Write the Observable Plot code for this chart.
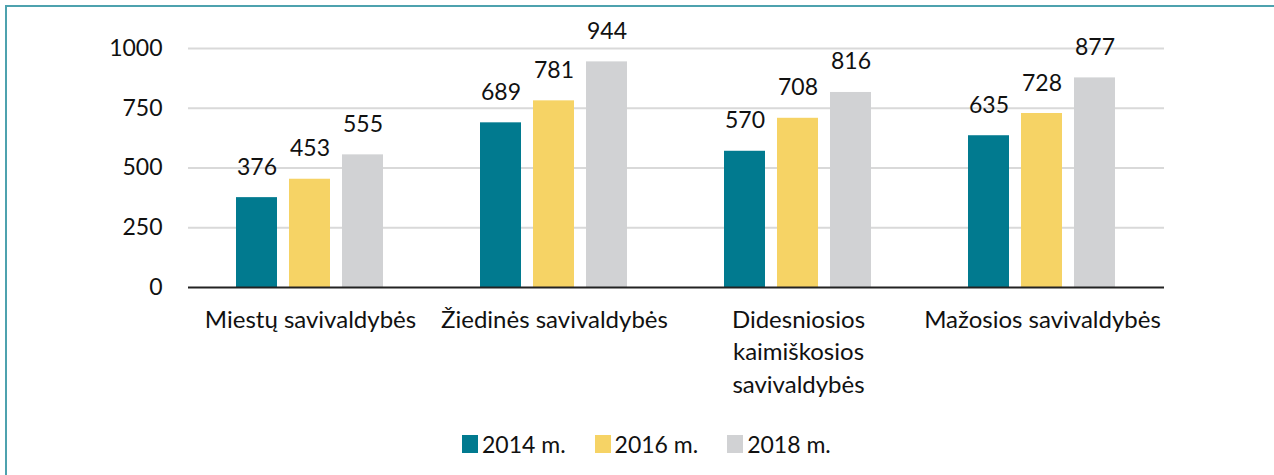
<!DOCTYPE html>
<html>
<head>
<meta charset="utf-8">
<script src="https://cdn.jsdelivr.net/npm/d3@7"></script>
<script src="https://cdn.jsdelivr.net/npm/@observablehq/plot@0.6"></script>
<style>
  body { margin: 0; background: #fff; font-family: Lato, "Open Sans", sans-serif; }
  #wrap { position: relative; width: 1274px; height: 475px; overflow: hidden; background: #fff; }
  #frame { position: absolute; left: 5px; top: 5px; width: 1300px; height: 500px;
           border-top: 2px solid #4da2ae; border-left: 2px solid #4da2ae; box-sizing: border-box; pointer-events: none; }
  #chart { position: absolute; left: 0; top: 0; }
  #legend { position: absolute; top: 430px; left: 462px; display: flex; align-items: center;
            font-size: 23px; color: #111; }
  .item { display: flex; align-items: center; margin-right: 29px; }
  .sw { width: 16px; height: 18px; margin-right: 4px; }
</style>
</head>
<body>
<div id="wrap">
  <div id="chart"></div>
  <div id="legend"></div>
  <div id="frame"></div>
</div>
<script>
const categories = ["Miestų savivaldybės", "Žiedinės savivaldybės", "Didesniosios kaimiškosios savivaldybės", "Mažosios savivaldybės"];
const tickLabels = ["Miestų savivaldybės", "Žiedinės savivaldybės", "Didesniosios\nkaimiškosios\nsavivaldybės", "Mažosios savivaldybės"];
const years = ["2014 m.", "2016 m.", "2018 m."];
const values2014 = [376, 689, 570, 635];
const values2016 = [453, 781, 708, 728];
const values2018 = [555, 944, 816, 877];
const yTicks = [0, 250, 500, 750, 1000];
const colors = ["#017a8f", "#f6d365", "#d1d2d4"];

const series = [values2014, values2016, values2018];
const table = [];
categories.forEach((c, i) => {
  years.forEach((y, j) => table.push({ cat: c, year: y, value: series[j][i] }));
});

const chart = Plot.plot({
  width: 1274,
  height: 420,
  marginTop: 48,
  marginBottom: 133,
  marginLeft: 187,
  marginRight: 109,
  style: { fontFamily: "Lato, 'Open Sans', sans-serif", fontSize: "23px", color: "#111", background: "transparent" },
  fx: { domain: categories, padding: 0 },
  x: { domain: years, paddingInner: 0.222, paddingOuter: 0.875, axis: null },
  y: { domain: [0, 1000] },
  color: { domain: years, range: colors },
  marks: [
    Plot.gridY(yTicks.filter(d => d > 0), { stroke: "#d9d9d9", strokeOpacity: 1, strokeWidth: 2 }),
    Plot.axisY(yTicks, { tickSize: 0, tickPadding: 26, fontSize: 23, label: null, tickFormat: d => String(d) }),
    Plot.barY(table, { fx: "cat", x: "year", y: "value", fill: "year" }),
    Plot.text(table, { fx: "cat", x: "year", y: "value", text: d => String(d.value), dy: -23, lineAnchor: "bottom", fontSize: 23, fill: "#111" }),
    Plot.ruleY([0], { stroke: "#222", strokeWidth: 2 }),
    Plot.axisFx({ anchor: "bottom", tickSize: 0, tickPadding: 17, fontSize: 24, lineHeight: 1.36, lineAnchor: "top", label: null,
                  tickFormat: d => tickLabels[categories.indexOf(d)] })
  ]
});
document.getElementById("chart").appendChild(chart);

const legend = document.getElementById("legend");
years.forEach((y, j) => {
  const item = document.createElement("div");
  item.className = "item";
  const sw = document.createElement("div");
  sw.className = "sw";
  sw.style.background = colors[j];
  const t = document.createElement("span");
  t.textContent = y;
  item.appendChild(sw);
  item.appendChild(t);
  legend.appendChild(item);
});
</script>
</body>
</html>
